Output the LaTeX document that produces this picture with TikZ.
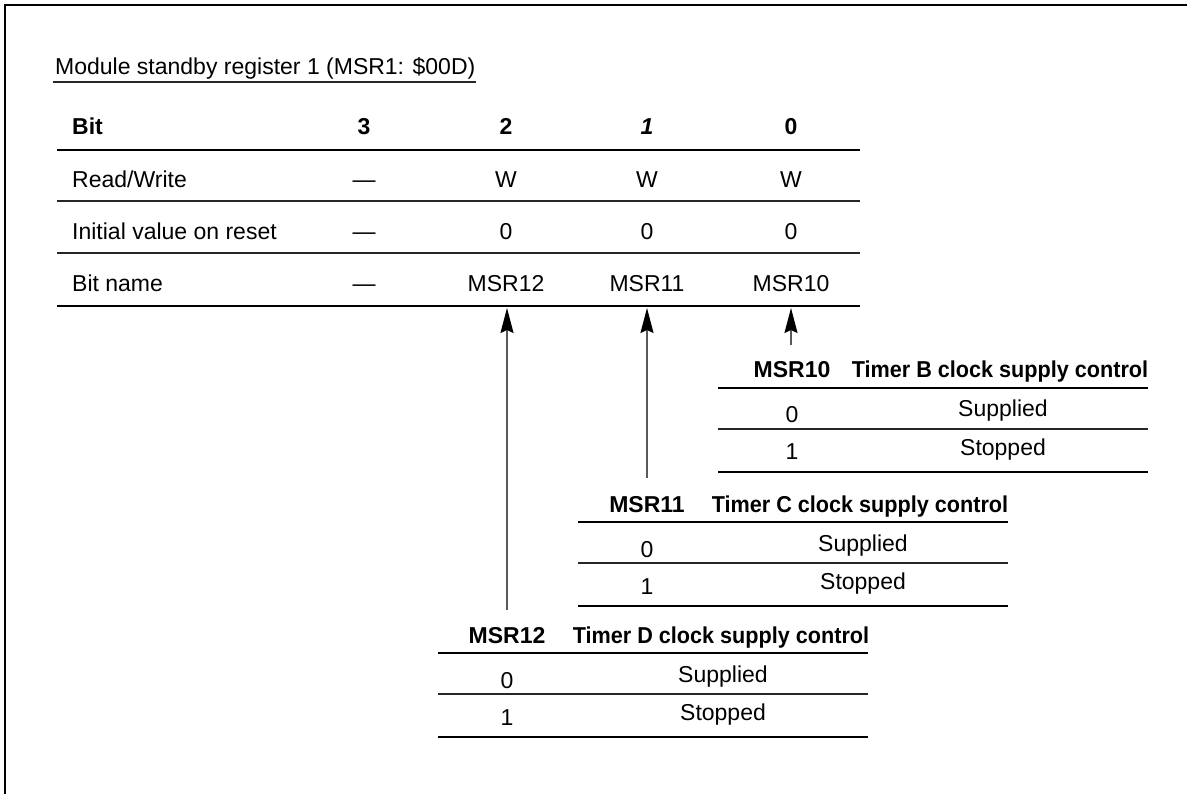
\documentclass[tikz,border=0pt]{standalone}
\usepackage{fontspec}
\setmainfont{Liberation Sans}
\usetikzlibrary{arrows.meta}
\newcommand{\narrowhead}[1]{\scalebox{0.94}[1]{#1}}
\begin{document}
\begin{tikzpicture}[x=1pt,y=-1pt,
  txt/.style={inner sep=0pt, anchor=base, font=\fontsize{23}{27}\selectfont},
  txtb/.style={txt, font=\fontsize{23}{27}\selectfont\bfseries},
  thickrule/.style={line width=2.6pt, black},
  thinrule/.style={line width=1.4pt, black!85},
  framerule/.style={line width=2pt, black},
  arr/.style={line width=1.5pt, black!65, -{Stealth[length=25pt,width=13pt,inset=3pt,color=black]}}]
\useasboundingbox (0,0) rectangle (1187,794);
% frame
\draw[framerule] (5,794) -- (5,5) -- (1187,5);
% title
\node[txt, anchor=base west] (title) at (55,75) {Module standby register 1 (MSR1: \$00D)};
\draw[thinrule] (52.7,82) -- (title.east |- 0,82);
% header row
\node[txtb, anchor=base west] (hbit) at (72,135) {Bit};
\node[txtb] (h3) at (364,135) {3};
\node[txtb] (h2) at (506,135) {2};
\node[txtb] (h1) at (647,135) {\itshape 1};
\node[txtb] (h0) at (791,135) {0};
\draw[thickrule] (57,150) -- (860,150);
% read/write
\node[txt, anchor=base west] (rw) at (72,188) {Read/Write};
\node[txt] (rw3) at (364,188) {—};
\node[txt] (rw2) at (506,188) {W};
\node[txt] (rw1) at (647,188) {W};
\node[txt] (rw0) at (791,188) {W};
\draw[thinrule] (57,201) -- (860,201);
% initial value
\node[txt, anchor=base west] (iv) at (72,240) {Initial value on reset};
\node[txt] (iv3) at (364,240) {—};
\node[txt] (iv2) at (506,240) {0};
\node[txt] (iv1) at (647,240) {0};
\node[txt] (iv0) at (791,240) {0};
\draw[thinrule] (57,253) -- (860,253);
% bit name
\node[txt, anchor=base west] (bn) at (72,292) {Bit name};
\node[txt] (bn3) at (364,292) {—};
\node[txt] (bn2) at (506,292) {MSR12};
\node[txt] (bn1) at (647,292) {MSR11};
\node[txt] (bn0) at (791,292) {MSR10};
\draw[thickrule] (57,306) -- (860,306);
% MSR10 table
\node[txtb] (t10h) at (792,378) {MSR10};
\node[txtb] (t10d) at (1000,378) {\narrowhead{Timer B clock supply control}};
\draw[thickrule] (718,388) -- (1148,388);
\node[txt] (t10a) at (792,423) {0};
\node[txt] (t10s) at (1003,417) {Supplied};
\draw[thinrule] (718,429) -- (1148,429);
\node[txt] (t10b) at (792,460) {1};
\node[txt] (t10p) at (1003,455) {Stopped};
\draw[thickrule] (718,472) -- (1148,472);
% MSR11 table
\node[txtb] (t11h) at (647,512) {MSR11};
\node[txtb] (t11d) at (860,512) {\narrowhead{Timer C clock supply control}};
\draw[thickrule] (578,522) -- (1008,522);
\node[txt] (t11a) at (647,557) {0};
\node[txt] (t11s) at (863,551) {Supplied};
\draw[thinrule] (578,563) -- (1008,563);
\node[txt] (t11b) at (647,594) {1};
\node[txt] (t11p) at (863,589) {Stopped};
\draw[thickrule] (578,606) -- (1008,606);
% MSR12 table
\node[txtb] (t12h) at (507,643) {MSR12};
\node[txtb] (t12d) at (721,643) {\narrowhead{Timer D clock supply control}};
\draw[thickrule] (438,653) -- (868,653);
\node[txt] (t12a) at (507,688) {0};
\node[txt] (t12s) at (723,682) {Supplied};
\draw[thinrule] (438,694) -- (868,694);
\node[txt] (t12b) at (507,725) {1};
\node[txt] (t12p) at (723,720) {Stopped};
\draw[thickrule] (438,737) -- (868,737);
% arrows
\coordinate (s12) at (507,610);
\coordinate (e12) at (507,308);
\coordinate (s11) at (647,478);
\coordinate (e11) at (647,308);
\coordinate (s10) at (791,345);
\coordinate (e10) at (791,308);
\draw[arr] (s12) -- (e12);
\draw[arr] (s11) -- (e11);
\draw[arr] (s10) -- (e10);
\end{tikzpicture}
\end{document}
